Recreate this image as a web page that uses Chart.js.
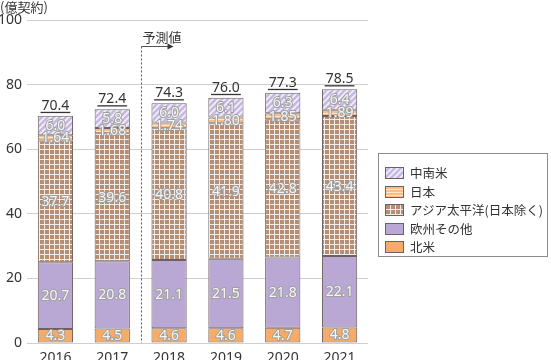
<!DOCTYPE html>
<html>
<head>
<meta charset="utf-8">
<script src="https://cdn.jsdelivr.net/npm/chart.js@4"></script>
<style>
  body { margin: 0; background: #fff; font-family: "Noto Sans CJK JP", sans-serif; }
  .wrap { position: relative; width: 551px; height: 360px; overflow: hidden; }
  #chart_main { display: block; }
  #legend_box {
    position: absolute; left: 378px; top: 153px; width: 168px; height: 102px;
    border: 1px solid #8c8c8c; background: #fff;
  }
  .legend_item { position: absolute; left: 6px; display: flex; align-items: center; font-size: 12.5px; color: #333; line-height: 16px; white-space: nowrap; }
  .legend_item canvas { border: 1px solid #6e6060; margin-right: 6px; }
</style>
</head>
<body>
<div class="wrap">
  <canvas id="chart_main" width="551" height="360"></canvas>
  <div id="legend_box"></div>
</div>
<script>
let categories = ['2016', '2017', '2018', '2019', '2020', '2021']
let northAmerica = [4.3, 4.5, 4.6, 4.6, 4.7, 4.8]
let europeOther = [20.7, 20.8, 21.1, 21.5, 21.8, 22.1]
let asiaPacific = [37.7, 39.6, 40.8, 41.9, 42.8, 43.4]
let japan = [1.64, 1.68, 1.74, 1.80, 1.85, 1.89]
let latinAmerica = [6.0, 5.8, 6.0, 6.1, 6.3, 6.4]
let totals = [70.4, 72.4, 74.3, 76.0, 77.3, 78.5]
let yTicks = [0, 20, 40, 60, 80, 100]
let unitLabel = '(億契約)'
let forecastLabel = '予測値'

const FONT_JP = '"Noto Sans CJK JP", sans-serif'
const FONT_NUM = '"Noto Sans", "Noto Sans CJK JP", sans-serif'
const BORDER = '#6e6060'

function makePattern(size, draw) {
  let c = document.createElement('canvas')
  c.width = size
  c.height = size
  let g = c.getContext('2d')
  draw(g, size)
  return document.createElement('canvas').getContext('2d').createPattern(c, 'repeat')
}

let gridPattern = makePattern(5, (g, s) => {
  g.fillStyle = '#b48f75'
  g.fillRect(0, 0, s, s)
  g.fillStyle = '#f4ece6'
  g.fillRect(4, 0, 1, s)
  g.fillRect(0, 4, s, 1)
})
let stripePattern = makePattern(3, (g, s) => {
  g.fillStyle = '#f9bd86'
  g.fillRect(0, 0, s, s)
  g.fillStyle = '#fde6cf'
  g.fillRect(0, 2, s, 1)
})
let hatchPattern = makePattern(6, (g, s) => {
  g.fillStyle = '#c6b8e0'
  g.fillRect(0, 0, s, s)
  g.strokeStyle = '#f4f0fa'
  g.lineWidth = 1.6
  g.beginPath()
  g.moveTo(-1, s + 1); g.lineTo(s + 1, -1)
  g.moveTo(-3, 3); g.lineTo(3, -3)
  g.moveTo(3, s + 3); g.lineTo(s + 3, 3)
  g.stroke()
})

let series = [
  { label: '北米', data: northAmerica, bg: '#f6ac66', digits: 1 },
  { label: '欧州その他', data: europeOther, bg: '#b9a8d4', digits: 1 },
  { label: 'アジア太平洋(日本除く)', data: asiaPacific, bg: gridPattern, digits: 1 },
  { label: '日本', data: japan, bg: stripePattern, digits: 2 },
  { label: '中南米', data: latinAmerica, bg: hatchPattern, digits: 1 }
]

// labels inside segments, totals, forecast marker
const extraDraw = {
  id: 'extraDraw',
  afterDatasetsDraw(chart) {
    let ctx = chart.ctx
    let yScale = chart.scales.y
    let xScale = chart.scales.x
    ctx.save()
    ctx.textAlign = 'center'
    ctx.textBaseline = 'middle'
    ctx.font = '14px ' + FONT_NUM
    chart.data.datasets.forEach((ds, i) => {
      let meta = chart.getDatasetMeta(i)
      meta.data.forEach((el, j) => {
        let txt = ds.data[j].toFixed(series[i].digits)
        let cy = (el.y + el.base) / 2 + 0.5
        ctx.lineWidth = 2
        ctx.strokeStyle = '#a0a0a0'
        ctx.strokeText(txt, el.x, cy)
        ctx.fillStyle = '#f6f6f6'
        ctx.fillText(txt, el.x, cy)
      })
    })
    // totals
    let topMeta = chart.getDatasetMeta(chart.data.datasets.length - 1)
    ctx.font = '14px ' + FONT_NUM
    ctx.fillStyle = '#333'
    ctx.textBaseline = 'alphabetic'
    topMeta.data.forEach((el, j) => {
      let txt = totals[j].toFixed(1)
      let w = ctx.measureText(txt).width
      ctx.fillText(txt, el.x, el.y - 6)
      ctx.fillRect(el.x - w / 2 - 1, el.y - 4, w + 2, 1.3)
    })
    // forecast divider
    let dx = Math.round((xScale.getPixelForValue(1) + xScale.getPixelForValue(2)) / 2) + 0.5
    let ay = 46.5
    ctx.strokeStyle = '#555'
    ctx.lineWidth = 1
    ctx.setLineDash([2, 2])
    ctx.beginPath()
    ctx.moveTo(dx, ay)
    ctx.lineTo(dx, yScale.getPixelForValue(0))
    ctx.stroke()
    ctx.setLineDash([])
    ctx.beginPath()
    ctx.moveTo(dx, ay)
    ctx.lineTo(dx + 27, ay)
    ctx.stroke()
    ctx.fillStyle = '#333'
    ctx.beginPath()
    ctx.moveTo(dx + 32, ay)
    ctx.lineTo(dx + 26, ay - 3)
    ctx.lineTo(dx + 26, ay + 3)
    ctx.closePath()
    ctx.fill()
    ctx.font = '13px ' + FONT_JP
    ctx.textAlign = 'left'
    ctx.fillText(forecastLabel, dx + 1, ay - 5)
    // unit
    ctx.font = '13px ' + FONT_JP
    ctx.fillText(unitLabel, 0, 12)
    ctx.restore()
  }
}

let chartMain = new Chart(document.getElementById('chart_main'), {
  type: 'bar',
  data: {
    labels: categories,
    datasets: series.map(s => ({
      label: s.label,
      data: s.data,
      backgroundColor: s.bg,
      borderColor: BORDER,
      borderWidth: 1,
      borderSkipped: false,
      categoryPercentage: 1,
      barPercentage: 0.62
    }))
  },
  options: {
    responsive: false,
    animation: false,
    events: [],
    layout: { padding: { top: 20, right: 183, left: 0, bottom: 0 } },
    plugins: {
      legend: { display: false },
      tooltip: { enabled: false }
    },
    scales: {
      x: {
        stacked: true,
        grid: { display: false },
        border: { display: false },
        ticks: { color: '#333', font: { family: FONT_NUM, size: 14, lineHeight: 1 }, padding: 0 },
        afterFit: axis => { axis.height = 17 }
      },
      y: {
        stacked: true,
        min: 0,
        max: 100,
        afterBuildTicks: axis => { axis.ticks = yTicks.map(v => ({ value: v })) },
        grid: { color: '#cfcfcf', drawTicks: false },
        border: { display: false },
        ticks: { color: '#333', font: { family: FONT_NUM, size: 14 }, padding: 5 },
        afterFit: axis => { axis.width = 27 }
      }
    }
  },
  plugins: [extraDraw]
})

// legend (reversed order like the original)
let legendBox = document.getElementById('legend_box')
series.slice().reverse().forEach((s, i) => {
  let item = document.createElement('div')
  item.className = 'legend_item'
  item.style.top = (11 + i * 18.5) + 'px'
  let sw = document.createElement('canvas')
  sw.width = 17
  sw.height = 10
  let g = sw.getContext('2d')
  g.fillStyle = s.bg
  g.fillRect(0, 0, 17, 10)
  item.appendChild(sw)
  let span = document.createElement('span')
  span.textContent = s.label
  item.appendChild(span)
  legendBox.appendChild(item)
})
</script>
</body>
</html>
